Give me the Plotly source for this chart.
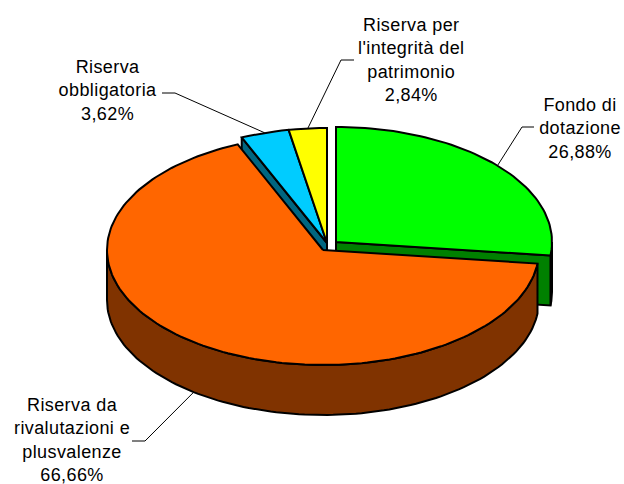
import math
import numpy as np
import plotly.graph_objects as go

# Data
categories = ["Fondo di<br>dotazione",
              "Riserva da<br>rivalutazioni e<br>plusvalenze",
              "Riserva<br>obbligatoria",
              "Riserva per<br>l'integrità del<br>patrimonio"]
values = [26.88, 66.66, 3.62, 2.84]

# Style
top_colors = ["#00FF00", "#FF6600", "#00CCFF", "#FFFF00"]
side_colors = ["#008000", "#803300", "#006680", "#808000"]
centers = [(336, 242), (323, 250), (327, 243), (327, 243)]
RX, RY, DEPTH = 216, 115, 50
label_pos = [(580, 128), (72, 440), (108, 90), (411, 60)]
leader_tail = [[(522, 127), (534, 127)], [(145, 441), (132, 441)],
               [(175, 93), (162, 93)], [(341, 60), (354, 60)]]

total = sum(values)
edges = np.cumsum([0] + values) / total * 360


def pt(i, deg, drop=0):
    cx, cy = centers[i]
    t = math.radians(deg)
    return cx + RX * math.sin(t), cy - RY * math.cos(t) + drop


def arc(i, a, b, drop=0):
    n = max(2, int(abs(b - a) / 1.5))
    return [pt(i, d, drop) for d in np.linspace(a, b, n)]


def poly(points, color, width=2):
    xs = [p[0] for p in points] + [points[0][0]]
    ys = [p[1] for p in points] + [points[0][1]]
    return go.Scatter(x=xs, y=ys, mode="lines", fill="toself", fillcolor=color,
                      line=dict(color="black", width=width), hoverinfo="skip",
                      showlegend=False)


def end_face(i, deg):
    c = centers[i]
    p = pt(i, deg)
    return [c, p, (p[0], p[1] + DEPTH), (c[0], c[1] + DEPTH)]


def rim(i, a, b):
    return arc(i, a, b) + arc(i, b, a, DEPTH)


fig = go.Figure()
a = edges

# back to front
fig.add_trace(poly(rim(0, 90, a[1]), side_colors[0]))
fig.add_trace(poly(end_face(0, a[1]), side_colors[0]))
fig.add_trace(poly(end_face(2, a[2]), side_colors[2]))
for i in (0, 2, 3):
    fig.add_trace(poly([centers[i]] + arc(i, a[i], a[i + 1]), top_colors[i]))
fig.add_trace(poly(rim(1, a[1], 270), side_colors[1]))
fig.add_trace(poly([centers[1]] + arc(1, a[1], a[2]), top_colors[1]))

# leader lines
for i in range(4):
    mid = (a[i] + a[i + 1]) / 2
    drop = DEPTH if i == 1 else 0
    pts = [pt(i, mid, drop)] + leader_tail[i]
    fig.add_trace(go.Scatter(x=[p[0] for p in pts], y=[p[1] for p in pts],
                             mode="lines", line=dict(color="black", width=1),
                             hoverinfo="skip", showlegend=False))

for i in range(4):
    txt = f"{categories[i]}<br>{values[i]:.2f}%".replace(".", ",")
    fig.add_annotation(x=label_pos[i][0], y=label_pos[i][1], text=txt,
                       showarrow=False, xanchor="center", yanchor="middle",
                       align="center",
                       font=dict(family="Liberation Sans", size=18, color="black"))

fig.update_layout(
    width=624, height=484, margin=dict(l=0, r=0, t=0, b=0),
    paper_bgcolor="white", plot_bgcolor="white", showlegend=False,
    xaxis=dict(range=[0, 624], visible=False, fixedrange=True),
    yaxis=dict(range=[484, 0], visible=False, fixedrange=True),
)
post = ("document.body.style.margin='0';"
        "document.querySelectorAll('.annotation text').forEach(function(t){"
        "t.style.letterSpacing='0.4px';});")
fig.write_html("out.html", config={"displayModeBar": False}, post_script=post)
